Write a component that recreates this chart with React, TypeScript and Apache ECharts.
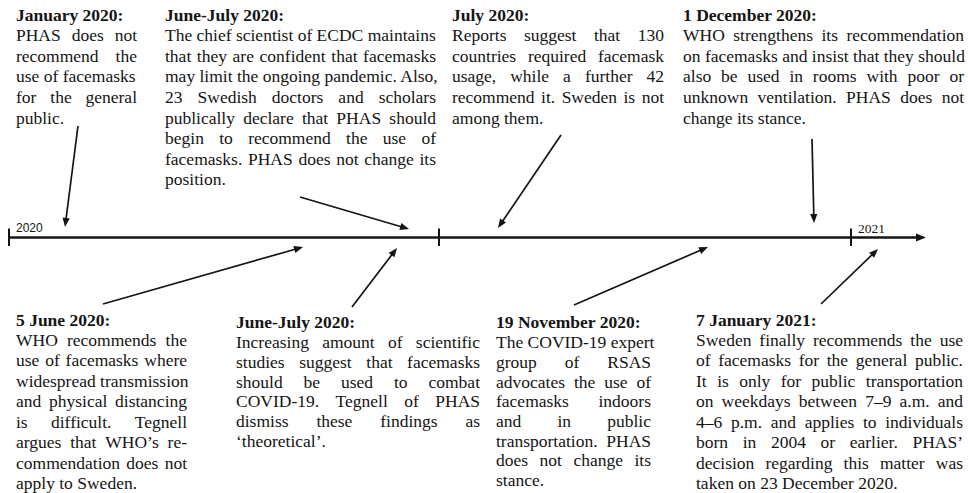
import React, { useEffect, useRef } from "react";
import * as echarts from "echarts";

// ---- content ----
const yearLabels = ["2020", "2021"];

const eventTitles = [
  "January 2020:",
  "June-July 2020:",
  "July 2020:",
  "1 December 2020:",
  "5 June 2020:",
  "June-July 2020:",
  "19 November 2020:",
  "7 January 2021:",
];

const eventLines: string[][] = [
  ["PHAS does not", "recommend the", "use of facemasks", "for the general", "public."],
  [
    "The chief scientist of ECDC maintains",
    "that they are confident that facemasks",
    "may limit the ongoing pandemic. Also,",
    "23 Swedish doctors and scholars",
    "publically declare that PHAS should",
    "begin to recommend the use of",
    "facemasks. PHAS does not change its",
    "position.",
  ],
  [
    "Reports suggest that 130",
    "countries required facemask",
    "usage, while a further 42",
    "recommend it. Sweden is not",
    "among them.",
  ],
  [
    "WHO strengthens its recommendation",
    "on facemasks and insist that they should",
    "also be used in rooms with poor or",
    "unknown ventilation. PHAS does not",
    "change its stance.",
  ],
  [
    "WHO recommends the",
    "use of facemasks where",
    "widespread transmission",
    "and physical distancing",
    "is difficult. Tegnell",
    "argues that WHO\u2019s re-",
    "commendation does not",
    "apply to Sweden.",
  ],
  [
    "Increasing amount of scientific",
    "studies suggest that facemasks",
    "should be used to combat",
    "COVID-19. Tegnell of PHAS",
    "dismiss these findings as",
    "\u2018theoretical\u2019.",
  ],
  [
    "The COVID-19 expert",
    "group of RSAS",
    "advocates the use of",
    "facemasks indoors",
    "and in public",
    "transportation. PHAS",
    "does not change its",
    "stance.",
  ],
  [
    "Sweden finally recommends the use",
    "of facemasks for the general public.",
    "It is only for public transportation",
    "on weekdays between 7\u20139 a.m. and",
    "4\u20136 p.m. and applies to individuals",
    "born in 2004 or earlier. PHAS\u2019",
    "decision regarding this matter was",
    "taken on 23 December 2020.",
  ],
];

// ---- layout (positions only) ----
const blockBoxes = [
  { left: 16, right: 137, top: 14.8, lh: 20.55 },
  { left: 165, right: 436, top: 14.8, lh: 20.55 },
  { left: 452, right: 664, top: 14.8, lh: 20.55 },
  { left: 683, right: 964, top: 14.8, lh: 20.55 },
  { left: 16, right: 187, top: 319.5, lh: 20.45 },
  { left: 236, right: 480, top: 322.4, lh: 19.7 },
  { left: 496, right: 651, top: 322.4, lh: 19.7 },
  { left: 696, right: 963, top: 319.5, lh: 20.45 },
];

const arrowSegments = [
  [78, 126, 65, 227],
  [300, 197, 409, 229],
  [103, 304, 303, 247],
  [352, 307, 397, 248],
  [561, 135, 498, 228],
  [812, 139, 814, 223],
  [574, 305, 708, 247],
  [821, 304, 878, 249],
];

const axisLine = { x1: 9, x2: 926, y: 237.5 };
const axisTicks = [9, 439, 851];

const FONT_FAMILY = '"Liberation Serif", "Times New Roman", serif';
const FONT_SIZE = 17.5;
const INK = "#141414";

function buildGraphic() {
  const canvas = document.createElement("canvas");
  const ctx = canvas.getContext("2d")!;
  ctx.font = `${FONT_SIZE}px ${FONT_FAMILY}`;
  const spaceW = ctx.measureText(" ").width;
  const els: any[] = [];

  const txt = (text: string, x: number, y: number, bold = false) => ({
    type: "text",
    x,
    y,
    silent: true,
    style: {
      text,
      fill: INK,
      fontFamily: FONT_FAMILY,
      fontSize: FONT_SIZE,
      fontWeight: bold ? "bold" : "normal",
      align: "left",
      verticalAlign: "middle",
    },
  });

  eventTitles.forEach((title, b) => {
    const box = blockBoxes[b];
    els.push(txt(title, box.left, box.top, true));
    const lines = eventLines[b];
    lines.forEach((line, i) => {
      const y = box.top + (i + 1) * box.lh;
      const words = line.split(" ");
      const isLast = i === lines.length - 1;
      const widths = words.map((w) => ctx.measureText(w).width);
      const sum = widths.reduce((a, c) => a + c, 0);
      const width = box.right - box.left;
      const gap = words.length > 1 ? (width - sum) / (words.length - 1) : 0;
      if (isLast || words.length < 2 || gap - spaceW < 0.8) {
        els.push(txt(line, box.left, y));
      } else {
        let x = box.left;
        words.forEach((w, k) => {
          els.push(txt(w, x, y));
          x += widths[k] + gap;
        });
      }
    });
  });

  // timeline axis
  els.push({
    type: "line",
    silent: true,
    shape: { x1: axisLine.x1, y1: axisLine.y, x2: axisLine.x2 - 6, y2: axisLine.y },
    style: { stroke: INK, lineWidth: 2.4 },
  });
  els.push({
    type: "polygon",
    silent: true,
    shape: {
      points: [
        [axisLine.x2, axisLine.y],
        [axisLine.x2 - 10, axisLine.y - 4],
        [axisLine.x2 - 10, axisLine.y + 4],
      ],
    },
    style: { fill: INK },
  });
  axisTicks.forEach((tx) => {
    els.push({
      type: "line",
      silent: true,
      shape: { x1: tx, y1: axisLine.y - 9, x2: tx, y2: axisLine.y + 8.5 },
      style: { stroke: INK, lineWidth: 2 },
    });
  });
  els.push({
    type: "text",
    x: 16,
    y: 234,
    silent: true,
    style: {
      text: yearLabels[0],
      fill: INK,
      fontFamily: '"Liberation Sans", Arial, sans-serif',
      fontSize: 12,
      align: "left",
      verticalAlign: "bottom",
    },
  });
  els.push({
    type: "text",
    x: 858,
    y: 235,
    silent: true,
    style: {
      text: yearLabels[1],
      fill: INK,
      fontFamily: FONT_FAMILY,
      fontSize: 13.5,
      align: "left",
      verticalAlign: "bottom",
    },
  });

  // arrows
  arrowSegments.forEach(([x1, y1, x2, y2]) => {
    const dx = x2 - x1;
    const dy = y2 - y1;
    const len = Math.hypot(dx, dy);
    const ux = dx / len;
    const uy = dy / len;
    const px = -uy;
    const py = ux;
    const L = 9;
    const W = 3.6;
    els.push({
      type: "line",
      silent: true,
      shape: { x1, y1, x2: x2 - ux * L * 0.7, y2: y2 - uy * L * 0.7 },
      style: { stroke: INK, lineWidth: 1.7 },
    });
    els.push({
      type: "polygon",
      silent: true,
      shape: {
        points: [
          [x2, y2],
          [x2 - ux * L + px * W, y2 - uy * L + py * W],
          [x2 - ux * L - px * W, y2 - uy * L - py * W],
        ],
      },
      style: { fill: INK },
    });
  });

  return els;
}

export default function App() {
  const ref = useRef<HTMLDivElement>(null);
  useEffect(() => {
    if (!ref.current) return;
    const chart = echarts.init(ref.current, null, { renderer: "svg" });
    chart.setOption({
      animation: false,
      backgroundColor: "#ffffff",
      graphic: { elements: buildGraphic() },
    });
    return () => chart.dispose();
  }, []);
  return (
    <div
      ref={ref}
      style={{ position: "fixed", left: 0, top: 0, width: 968, height: 493, background: "#fff" }}
    />
  );
}
